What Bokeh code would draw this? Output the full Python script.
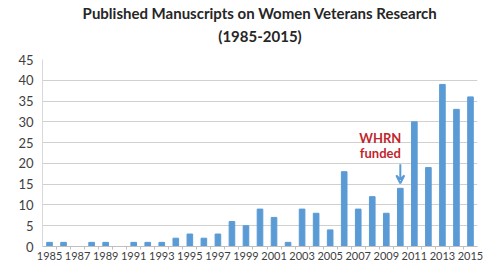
from bokeh.plotting import figure
from bokeh.models import (ColumnDataSource, Range1d, FixedTicker, Title, Label,
                          Arrow, VeeHead)
from bokeh.embed import file_html
from bokeh.resources import INLINE

years = list(range(1985, 2016))
counts = [1, 1, 0, 1, 1, 0, 1, 1, 1, 2, 3, 2, 3, 6, 5, 9, 7, 1, 9, 8, 4,
          18, 9, 12, 8, 14, 30, 19, 39, 33, 36]
label_years = list(range(1985, 2016, 2))
y_ticks = list(range(0, 50, 5))
title_line1 = "Published Manuscripts on Women Veterans Research"
title_line2 = "(1985-2015)"
note_lines = ["WHRN", "funded"]
note_year = 2010

FONT = "Lato"
BAR = "#5B9BD5"

src = ColumnDataSource(dict(year=years, count=counts))

p = figure(width=485, height=262, output_backend="svg", toolbar_location=None,
           x_range=Range1d(years[0] - 0.5, years[-1] + 0.5),
           y_range=Range1d(0, 45), title=None,
           min_border_left=42, min_border_right=8, min_border_top=2,
           min_border_bottom=2)
p.outline_line_color = None

# spacer between title and plot area
p.add_layout(Title(text=" ", text_font_size="10px", standoff=0), "above")
p.add_layout(Title(text=title_line2, align="center", text_font=FONT,
                   text_font_size="15px", text_font_style="bold",
                   text_color="#262626", standoff=4), "above")
p.add_layout(Title(text=title_line1, align="center", text_font=FONT,
                   text_font_size="15px", text_font_style="bold",
                   text_color="#262626", standoff=2), "above")

p.vbar(x="year", top="count", width=0.4, source=src, color=BAR)

p.xgrid.grid_line_color = None
p.ygrid.grid_line_color = "#d0d0d0"
p.ygrid.ticker = FixedTicker(ticks=y_ticks)

p.yaxis.ticker = FixedTicker(ticks=y_ticks)
p.yaxis.axis_line_color = "#d9d9d9"
p.yaxis.major_tick_line_color = None
p.yaxis.minor_tick_line_color = None
p.yaxis.major_tick_out = 0
p.yaxis.major_label_text_font = FONT
p.yaxis.major_label_text_font_size = "13px"
p.yaxis.major_label_text_color = "#404040"
p.yaxis.major_label_standoff = 9

p.xaxis.ticker = FixedTicker(ticks=label_years,
                             minor_ticks=[y + 0.5 for y in years[:-1]])
p.xaxis.axis_line_color = "#bfbfbf"
p.xaxis.major_tick_line_color = None
p.xaxis.major_tick_out = 0
p.xaxis.major_tick_in = 0
p.xaxis.minor_tick_line_color = "#bfbfbf"
p.xaxis.minor_tick_out = 3
p.xaxis.minor_tick_in = 0
p.xaxis.major_label_text_font = FONT
p.xaxis.major_label_text_font_size = "11px"
p.xaxis.major_label_text_color = "#404040"
p.xaxis.major_label_standoff = 2

ny = counts[years.index(note_year)]
p.add_layout(Arrow(end=VeeHead(size=8, line_color=BAR, line_width=2, fill_color=None),
                   x_start=note_year, y_start=ny + 5.8, x_end=note_year, y_end=ny + 1.2,
                   line_color=BAR, line_width=2))
p.add_layout(Label(x=note_year, y=ny + 12.1, x_offset=-20, text=note_lines[0],
                   text_align="center", text_baseline="middle", text_font=FONT,
                   text_font_style="bold", text_font_size="13px", text_color="#C0262D"))
p.add_layout(Label(x=note_year, y=ny + 8.4, x_offset=-20, text=note_lines[1],
                   text_align="center", text_baseline="middle", text_font=FONT,
                   text_font_style="bold", text_font_size="13px", text_color="#C0262D"))

open("out.html", "w").write(file_html(p, INLINE))
